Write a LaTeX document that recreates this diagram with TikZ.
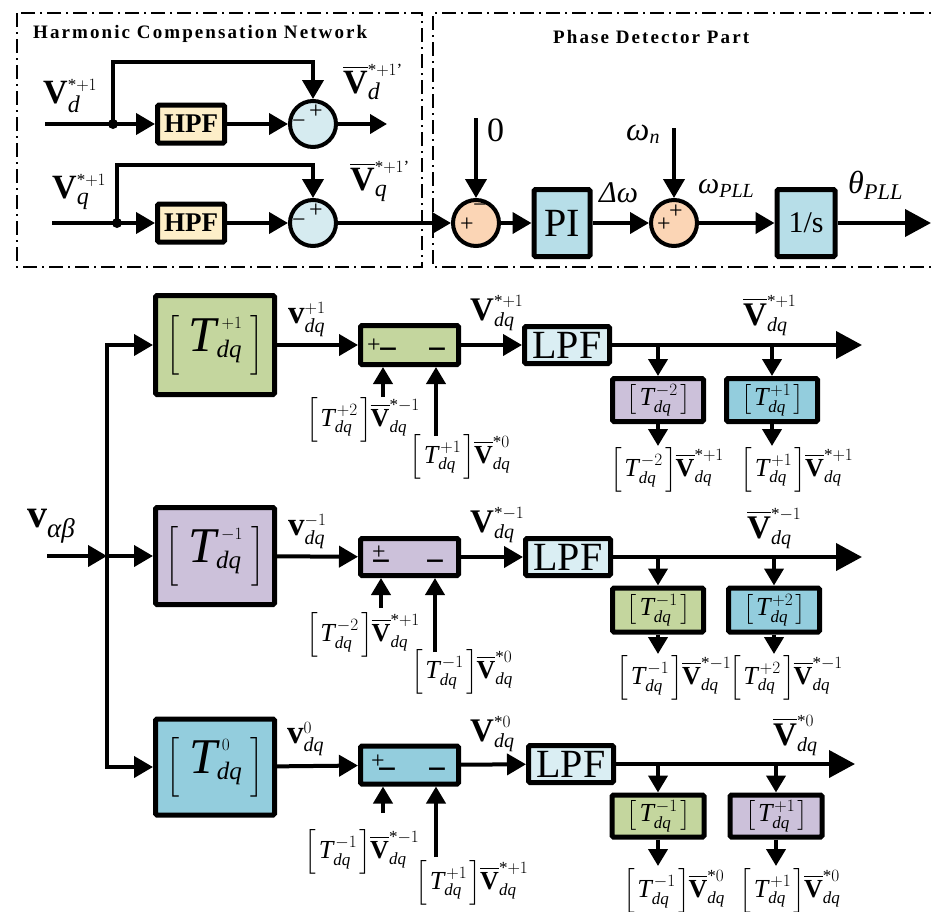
\documentclass[tikz,border=0pt]{standalone}
\usepackage{amsmath}
\usepackage{fontspec}
\setmainfont{Liberation Serif}
\newfontfamily\titlefont[LetterSpace=11]{Liberation Serif}
\usetikzlibrary{arrows.meta,calc}
\DeclareMathSizes{34}{34}{24}{17}
\DeclareMathSizes{33}{33}{20}{17}
\DeclareMathSizes{40}{40}{27}{20}
\DeclareMathSizes{50}{50}{25}{18}
\DeclareMathSizes{26}{26}{17}{14}
\DeclareMathSizes{30}{30}{20}{15}
\newcommand{\fs}[1]{\fontsize{#1}{#1}\selectfont}
\newcommand{\sss}{\scriptscriptstyle}
\newcommand{\mI}[1]{\text{\itshape #1}}
\newcommand{\mB}[1]{\text{\bfseries #1}}
\newcommand{\Vb}{\overline{\mB{V}}}
\newcommand{\sx}{\text{*}}
\newcommand{\lbr}[1]{\mathopen{\left[\vcenter{\hbox{\rule{0pt}{#1}}}\right.}}
\newcommand{\rbr}[1]{\mathclose{\left.\vcenter{\hbox{\rule{0pt}{#1}}}\right]}}
\newcommand{\Tb}[2][35pt]{\lbr{#1}\mkern1mu\mI{T}^{\kern2pt #2}_{\mI{dq}}\mkern1mu\rbr{#1}\mkern-1mu}
\newcommand{\TB}[1]{\lbr{64pt}\mkern6mu \mI{T}^{\sss\kern5pt #1}_{\mI{dq}}\mkern5mu\rbr{64pt}}
\definecolor{cgreen}{HTML}{C4D69E}
\definecolor{cpurple}{HTML}{CCC1DA}
\definecolor{cblue}{HTML}{93CDDD}
\definecolor{clpf}{HTML}{DAEEF3}
\definecolor{chpf}{HTML}{FDEEC8}
\definecolor{csum}{HTML}{D6EBF0}
\definecolor{cpeach}{HTML}{FBD5B5}
\definecolor{cpi}{HTML}{B7DEE8}
\tikzset{
  ln/.style={line width=4pt},
  arr/.style={ln,-{Triangle[length=19pt,width=21pt]}},
  sarr/.style={ln,-{Triangle[length=17pt,width=19pt]}},
  barr/.style={ln,-{Triangle[length=26pt,width=27pt]}},
  blk/.style={draw,line width=5pt,rounded corners=1.5pt,inner sep=0pt},
  sumc/.style={draw,circle,line width=4pt,minimum size=46pt,inner sep=0pt},
  frame/.style={line width=2pt,dash pattern=on 14pt off 5pt on 2pt off 5pt},
  lab/.style={anchor=base west,inner sep=0pt},
  clab/.style={inner sep=0pt},
  sgn/.style={inner sep=0pt,font=\fs{24}},
  sgnm/.style={inner sep=0pt,font=\fs{34}\bfseries},
}
\begin{document}
\begin{tikzpicture}[x=1pt,y=-1pt]
\useasboundingbox (0,0) rectangle (934,911);
% ---------- frames ----------
\draw[frame] (17,13) rectangle (422,267);
\draw[frame] (950,13) -- (433,13) -- (433,267) -- (950,267);
\node[lab] (t1) at (33,38) {\titlefont\fs{19}\bfseries Harmonic Compensation Network};
\node[lab] (t2) at (553,43) {\titlefont\fs{19}\bfseries Phase Detector Part};
% ---------- harmonic compensation, d row ----------
\coordinate (ind) at (45,124);
\coordinate (jd) at (113,124);
\coordinate (fd) at (313,62);
\coordinate (od) at (387,124);
\node[blk,fill=chpf,minimum width=67pt,minimum height=38pt] (hpfd) at (191,124) {\fs{27}\bfseries HPF};
\node[sumc,fill=csum] (sd) at (313,124) {};
\draw[ln] (ind) -- (jd);
\fill (jd) circle (5pt);
\draw[arr] (jd) -- (hpfd);
\draw[arr] (hpfd) -- (sd);
\draw[arr] (jd) |- (fd) -- (sd);
\draw[sarr] (sd) -- (od);
\node[sgn] (sdp) at (316,112) {+};
\node[sgn] (sdm) at (299,124) {−};
\node[lab] (lvd) at (43,103) {\fs{34}$\mB{V}^{\sss\sx+1}_{\mI{d}}$};
\node[lab] (lvbd) at (343,93) {\fs{34}$\Vb^{\sss\sx+1\text{'}}_{\mI{d}}$};
% ---------- harmonic compensation, q row ----------
\coordinate (inq) at (52,223);
\coordinate (jq) at (117,223);
\coordinate (fq) at (313,165);
\node[blk,fill=chpf,minimum width=67pt,minimum height=38pt] (hpfq) at (191,223) {\fs{27}\bfseries HPF};
\node[sumc,fill=csum] (sq) at (313,223) {};
\draw[ln] (inq) -- (jq);
\fill (jq) circle (5pt);
\draw[arr] (jq) -- (hpfq);
\draw[arr] (hpfq) -- (sq);
\draw[arr] (jq) |- (fq) -- (sq);
\node[sgn] (sqp) at (316,211) {+};
\node[sgn] (sqm) at (299,223) {−};
\node[lab] (lvq) at (52,198) {\fs{34}$\mB{V}^{\sss\sx+1}_{\mI{q}}$};
\node[lab] (lvbq) at (350,190) {\fs{34}$\Vb^{\sss\sx+1\text{'}}_{\mI{q}}$};
% ---------- phase detector ----------
\node[sumc,fill=cpeach] (p1) at (476,223) {};
\node[blk,fill=cpi,minimum width=56pt,minimum height=67pt] (pi) at (562,223) {\fs{40}PI};
\node[sumc,fill=cpeach] (p2) at (674,223) {};
\node[blk,fill=cpi,minimum width=58pt,minimum height=67pt] (int) at (806,223) {\fs{30}1/s};
\coordinate (zero) at (476,118);
\coordinate (wn) at (674,128);
\coordinate (th) at (931,223);
\draw[arr] (sq) -- (p1);
\draw[arr] (zero) -- (p1);
\draw[arr] (p1) -- (pi);
\draw[arr] (pi) -- (p2);
\draw[arr] (wn) -- (p2);
\draw[arr] (p2) -- (int);
\draw[barr] (int) -- (th);
\node[sgn] (p1m) at (480,208) {−};
\node[sgn] (p1p) at (467,225) {+};
\node[sgn] (p2p) at (676,212) {+};
\node[sgn] (p2q) at (664,225) {+};
\node[lab] (l0) at (487,141) {\fs{34}0};
\node[lab] (lwn) at (626,140) {\fs{33}$\mI{ω}_{\mI{n}}$};
\node[lab] (ldw) at (599,202) {\fs{30}$\mI{Δω}$};
\node[lab] (lwp) at (698,193) {\fs{30}$\mI{ω}_{\mI{PLL}}$};
\node[lab] (lth) at (848,193) {\fs{32}$\mI{θ}_{\mI{PLL}}$};
% ---------- input bus ----------
\coordinate (vin) at (47,556);
\coordinate (bus1) at (107,345);
\coordinate (bus2) at (107,556);
\coordinate (bus3) at (107,767);
\node[lab] (lvab) at (27,527) {\fs{40}$\mB{v}_{\mI{αβ}}$};
\node[blk,fill=cgreen,minimum width=119pt,minimum height=99pt] (T1) at (215,345) {\fs{50}$\TB{+1}$};
\node[blk,fill=cpurple,minimum width=119pt,minimum height=97pt] (T2) at (215,556) {\fs{50}$\TB{-1}$};
\node[blk,fill=cblue,minimum width=119pt,minimum height=96pt] (T3) at (215,767) {\fs{50}$\TB{0}$};
\draw[arr] (vin) -- (bus2);
\draw[arr] (bus2) -- (bus1) -- (T1);
\draw[arr] (bus2) -- (bus3) -- (T3);
\draw[arr] (bus2) -- (T2);
% ---------- row 1 ----------
\node[blk,fill=cgreen,minimum width=98pt,minimum height=39pt] (D1) at (409.5,345) {};
\node[blk,fill=clpf,minimum width=85pt,minimum height=37pt] (L1) at (567,345) {\fs{40}LPF};
\coordinate (b1) at (658,345);
\coordinate (c1) at (772,345);
\coordinate (e1) at (862,345);
\node[blk,fill=cpurple,minimum width=91pt,minimum height=43pt] (A1) at (658,400) {\fs{26}$\Tb[30pt]{-2}$};
\node[blk,fill=cblue,minimum width=91pt,minimum height=43pt] (B1) at (772,400) {\fs{26}$\Tb[30pt]{+1}$};
\coordinate (a1o) at (658,446);
\coordinate (b1o) at (772,446);
\coordinate (u1) at (383,397);
\coordinate (w1) at (436,436);
\draw[arr] (T1) -- (D1);
\draw[arr] (D1) -- (L1);
\draw[barr] (L1) -- (e1);
\draw[sarr] (b1) -- (A1);
\draw[sarr] (c1) -- (B1);
\draw[sarr] (A1) -- (a1o);
\draw[sarr] (B1) -- (b1o);
\draw[sarr] (u1) -- (u1 |- D1.south);
\draw[sarr] (w1) -- (w1 |- D1.south);
\node[sgn] (d1p) at (374,346) {+};
\node[sgnm] (d1m) at (388,354) {−};
\node[sgnm] (d1n) at (437,354) {−};
\node[lab] (l1a) at (288,323) {\fs{33}$\mB{v}^{\sss +1}_{\mI{dq}}$};
\node[lab] (l1b) at (470,320) {\fs{33}$\mB{V}^{\sss\sx+1}_{\mI{dq}}$};
\node[lab] (l1c) at (743,325) {\fs{33}$\Vb^{\sss\sx+1}_{\mI{dq}}$};
\node[clab] (l1d) at (363,420) {\fs{26}$\Tb{+2}\Vb^{\sx-1}_{\mI{dq}}$};
\node[clab] (l1e) at (460,457) {\fs{26}$\Tb{+1}\Vb^{\sx0}_{\mI{dq}}$};
\node[clab] (l1f) at (667,470) {\fs{26}$\Tb{-2}\Vb^{\sx+1}_{\mI{dq}}$};
\node[clab] (l1g) at (797,470) {\fs{26}$\Tb{+1}\Vb^{\sx+1}_{\mI{dq}}$};
% ---------- row 2 ----------
\node[blk,fill=cpurple,minimum width=98pt,minimum height=37pt] (D2) at (409.5,557) {};
\node[blk,fill=clpf,minimum width=85pt,minimum height=37pt] (L2) at (568,557) {\fs{40}LPF};
\coordinate (b2) at (658,557);
\coordinate (c2) at (774,557);
\coordinate (e2) at (862,557);
\node[blk,fill=cgreen,minimum width=91pt,minimum height=44pt] (A2) at (658,610) {\fs{26}$\Tb[30pt]{-1}$};
\node[blk,fill=cblue,minimum width=91pt,minimum height=44pt] (B2) at (774,610) {\fs{26}$\Tb[30pt]{+2}$};
\coordinate (a2o) at (658,654);
\coordinate (b2o) at (774,654);
\coordinate (u2) at (381,608);
\coordinate (w2) at (435,652);
\draw[arr] (T2) -- (D2);
\draw[arr] (D2) -- (L2);
\draw[barr] (L2) -- (e2);
\draw[sarr] (b2) -- (A2);
\draw[sarr] (c2) -- (B2);
\draw[sarr] (A2) -- (a2o);
\draw[sarr] (B2) -- (b2o);
\draw[sarr] (u2) -- (u2 |- D2.south);
\draw[sarr] (w2) -- (w2 |- D2.south);
\node[sgn] (d2p) at (379,553) {+};
\node[sgnm] (d2m) at (381,566) {−};
\node[sgnm] (d2n) at (435,566) {−};
\node[lab] (l2a) at (288,535) {\fs{33}$\mB{v}^{\sss -1}_{\mI{dq}}$};
\node[lab] (l2b) at (470,532) {\fs{33}$\mB{V}^{\sss\sx-1}_{\mI{dq}}$};
\node[lab] (l2c) at (747,538) {\fs{33}$\Vb^{\sss\sx-1}_{\mI{dq}}$};
\node[clab] (l2d) at (363,635) {\fs{26}$\Tb{-2}\Vb^{\sx+1}_{\mI{dq}}$};
\node[clab] (l2e) at (462,672) {\fs{26}$\Tb{-1}\Vb^{\sx0}_{\mI{dq}}$};
\node[clab] (l2f) at (674,678) {\fs{26}$\Tb{-1}\Vb^{\sx-1}_{\mI{dq}}$};
\node[clab] (l2g) at (786,678) {\fs{26}$\Tb{+2}\Vb^{\sx-1}_{\mI{dq}}$};
% ---------- row 3 ----------
\node[blk,fill=cblue,minimum width=98pt,minimum height=38pt] (D3) at (409.5,765) {};
\node[blk,fill=clpf,minimum width=85pt,minimum height=37pt] (L3) at (571,764) {\fs{40}LPF};
\coordinate (b3) at (658,764);
\coordinate (c3) at (776,764);
\coordinate (e3) at (855,764);
\node[blk,fill=cgreen,minimum width=92pt,minimum height=42pt] (A3) at (658,816) {\fs{26}$\Tb[30pt]{-1}$};
\node[blk,fill=cpurple,minimum width=92pt,minimum height=42pt] (B3) at (776,816) {\fs{26}$\Tb[30pt]{+1}$};
\coordinate (a3o) at (658,866);
\coordinate (b3o) at (776,866);
\coordinate (u3) at (383,813);
\coordinate (w3) at (436,857);
\draw[arr] (T3) -- (D3);
\draw[arr] (D3) -- (L3);
\draw[barr] (L3) -- (e3);
\draw[sarr] (b3) -- (A3);
\draw[sarr] (c3) -- (B3);
\draw[sarr] (A3) -- (a3o);
\draw[sarr] (B3) -- (b3o);
\draw[sarr] (u3) -- (u3 |- D3.south);
\draw[sarr] (w3) -- (w3 |- D3.south);
\node[sgn] (d3p) at (378,762) {+};
\node[sgnm] (d3m) at (387,774) {−};
\node[sgnm] (d3n) at (437,774) {−};
\node[lab] (l3a) at (287,743) {\fs{33}$\mB{v}^{\sss 0}_{\mI{dq}}$};
\node[lab] (l3b) at (470,741) {\fs{33}$\mB{V}^{\sss\sx0}_{\mI{dq}}$};
\node[lab] (l3c) at (773,745) {\fs{33}$\Vb^{\sss\sx0}_{\mI{dq}}$};
\node[clab] (l3d) at (362,852) {\fs{26}$\Tb{-1}\Vb^{\sx-1}_{\mI{dq}}$};
\node[clab] (l3e) at (472,883) {\fs{26}$\Tb{+1}\Vb^{\sx+1}_{\mI{dq}}$};
\node[clab] (l3f) at (674,891) {\fs{26}$\Tb{-1}\Vb^{\sx0}_{\mI{dq}}$};
\node[clab] (l3g) at (790,891) {\fs{26}$\Tb{+1}\Vb^{\sx0}_{\mI{dq}}$};
\end{tikzpicture}
\end{document}
